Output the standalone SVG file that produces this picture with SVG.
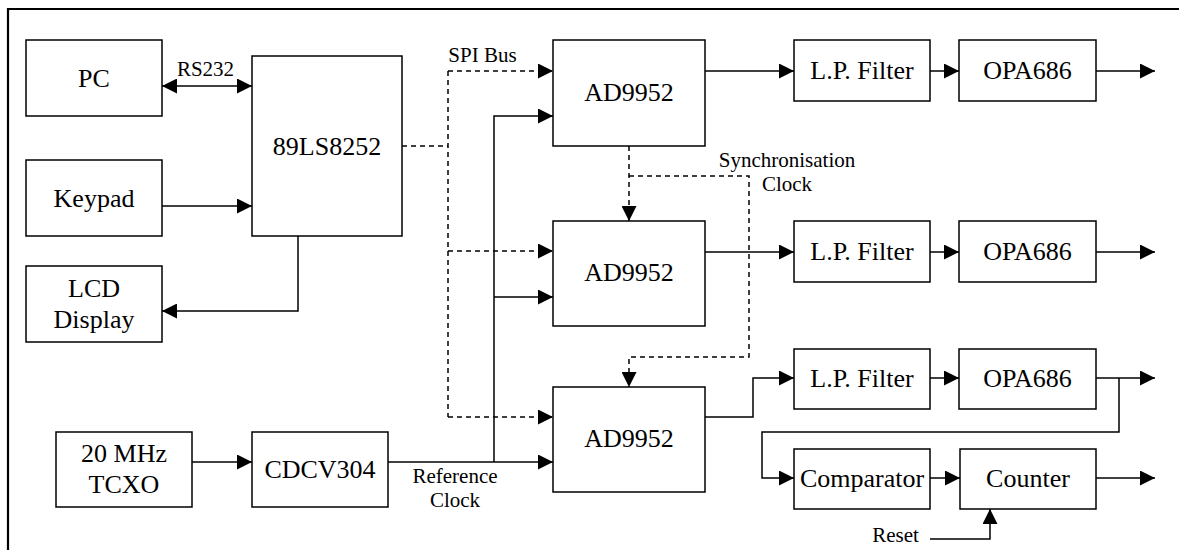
<svg xmlns="http://www.w3.org/2000/svg" width="1179" height="550" viewBox="0 0 1179 550">
<defs>
<marker id="ah" markerUnits="userSpaceOnUse" markerWidth="15" markerHeight="15" refX="15" refY="7.5" orient="auto-start-reverse" viewBox="0 0 15 15">
<path d="M0,0 L15,7.5 L0,15 Z" fill="#000"/>
</marker>
</defs>
<style>
.box{fill:#fff;stroke:#000;stroke-width:1.5}
.t{font-family:"Liberation Serif","Times New Roman",serif;font-size:26px;text-anchor:middle;fill:#000}
.s{font-family:"Liberation Serif","Times New Roman",serif;font-size:21px;text-anchor:middle;fill:#000}
.w{fill:none;stroke:#000;stroke-width:1.5}
.a{marker-end:url(#ah)}
.d{fill:none;stroke:#000;stroke-width:1.5;stroke-dasharray:5,4}
</style>
<rect width="1179" height="550" fill="#fff"/>
<path d="M8,550 L8,9 L1179,9" fill="none" stroke="#000" stroke-width="2.2"/>

<g id="connectors">
<path class="w a" style="marker-start:url(#ah)" d="M162,86 L252,86"/>
<path class="w a" d="M162,206 L252,206"/>
<path class="w a" d="M298,236 L298,311 L162,311"/>
<path class="w a" d="M192,462 L252,462"/>
<path class="w a" d="M388,462 L553,462"/>
<path class="w a" d="M494,462 L494,116 L553,116"/>
<path class="w a" d="M494,297 L553,297"/>
<path class="d" d="M402,146 L448,146"/>
<path class="d a" d="M448,71 L553,71"/>
<path class="d" d="M448,71 L448,417"/>
<path class="d a" d="M448,251 L553,251"/>
<path class="d a" d="M448,417 L553,417"/>
<path class="d a" d="M629,146 L629,221"/>
<path class="d a" d="M629,176 L749,176 L749,357 L629,357 L629,387"/>
<path class="w a" d="M705,71 L794,71"/>
<path class="w a" d="M930,71 L959,71"/>
<path class="w a" d="M1096,71 L1155,71"/>
<path class="w a" d="M705,252 L794,252"/>
<path class="w a" d="M930,252 L959,252"/>
<path class="w a" d="M1096,252 L1155,252"/>
<path class="w a" d="M705,417 L753,417 L753,378 L794,378"/>
<path class="w a" d="M930,378 L959,378"/>
<path class="w a" d="M1096,378 L1155,378"/>
<path class="w a" d="M1119,378 L1119,432 L762,432 L762,478 L794,478"/>
<path class="w a" d="M930,478 L960,478"/>
<path class="w a" d="M1096,478 L1155,478"/>
<path class="w a" d="M930,539 L990,539 L990,509"/>
<text class="s" x="205.5" y="76">RS232</text>
<text class="s" x="482.5" y="61.5">SPI Bus</text>
<text class="s" x="787" y="166.5">Synchronisation</text>
<text class="s" x="787" y="190.5">Clock</text>
<text class="s" x="455" y="482.5">Reference</text>
<text class="s" x="455" y="506.5">Clock</text>
<text class="s" x="895.5" y="542">Reset</text>
</g>

<g id="pc"><rect class="box" x="26" y="40" width="136" height="76"/><text class="t" x="94" y="86.5">PC</text></g>
<g id="keypad"><rect class="box" x="26" y="160" width="136" height="76"/><text class="t" x="94" y="207">Keypad</text></g>
<g id="lcd"><rect class="box" x="26" y="266" width="136" height="76"/><text class="t" x="94" y="297">LCD</text><text class="t" x="94" y="328">Display</text></g>
<g id="mcu"><rect class="box" x="252" y="56" width="150" height="180"/><text class="t" x="327" y="155">89LS8252</text></g>
<g id="tcxo"><rect class="box" x="56" y="432" width="136" height="75"/><text class="t" x="124" y="462">20 MHz</text><text class="t" x="124" y="493">TCXO</text></g>
<g id="cdcv304"><rect class="box" x="252" y="432" width="136" height="75"/><text class="t" x="320" y="477.5">CDCV304</text></g>
<g id="dds1"><rect class="box" x="553" y="40" width="152" height="106"/><text class="t" x="629" y="101">AD9952</text></g>
<g id="dds2"><rect class="box" x="553" y="221" width="152" height="105"/><text class="t" x="629" y="281">AD9952</text></g>
<g id="dds3"><rect class="box" x="553" y="387" width="152" height="105"/><text class="t" x="629" y="447">AD9952</text></g>
<g id="lpf1"><rect class="box" x="794" y="40" width="136" height="61"/><text class="t" x="862" y="79">L.P. Filter</text></g>
<g id="opa1"><rect class="box" x="959" y="40" width="137" height="61"/><text class="t" x="1027.5" y="79">OPA686</text></g>
<g id="lpf2"><rect class="box" x="794" y="221" width="136" height="61"/><text class="t" x="862" y="260">L.P. Filter</text></g>
<g id="opa2"><rect class="box" x="959" y="221" width="137" height="61"/><text class="t" x="1027.5" y="260">OPA686</text></g>
<g id="lpf3"><rect class="box" x="794" y="349" width="136" height="60"/><text class="t" x="862" y="387">L.P. Filter</text></g>
<g id="opa3"><rect class="box" x="959" y="349" width="137" height="60"/><text class="t" x="1027.5" y="387">OPA686</text></g>
<g id="comparator"><rect class="box" x="794" y="449" width="136" height="60"/><text class="t" x="862" y="487">Comparator</text></g>
<g id="counter"><rect class="box" x="960" y="449" width="136" height="60"/><text class="t" x="1028" y="487">Counter</text></g>
</svg>
